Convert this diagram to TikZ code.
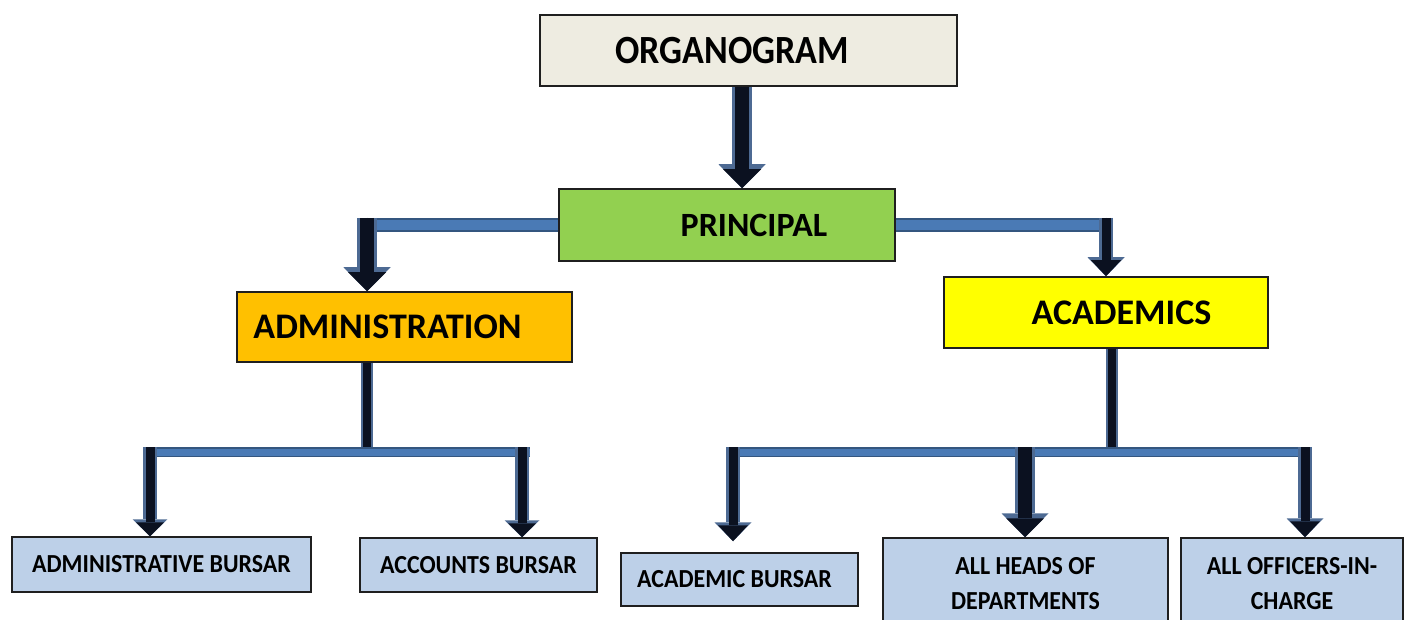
\documentclass[tikz,border=0pt]{standalone}
\usepackage{fontspec}
\setmainfont{Carlito}
\newfontfamily\lowfam{Carlito}[FakeStretch=0.92]
\usepackage{graphicx}
\usetikzlibrary{arrows.meta}
\definecolor{orgfill}{HTML}{EEECE1}
\definecolor{prifill}{HTML}{92D050}
\definecolor{admfill}{HTML}{FFC000}
\definecolor{acafill}{HTML}{FFFF00}
\definecolor{lowfill}{HTML}{BDD0E8}
\definecolor{boxline}{HTML}{1F1F1F}
\definecolor{barfill}{HTML}{4A7AB5}
\definecolor{baredge}{HTML}{34567F}
\definecolor{shaftc}{HTML}{0B1120}
\definecolor{shaftedge}{HTML}{4D6A93}
\tikzset{
  box/.style={draw=boxline, line width=1.5pt, inner sep=0pt},
  bigfont/.style={font=\fontsize{36}{42}\selectfont\bfseries},
  lowfont/.style={font=\lowfam\fontsize{26}{35}\selectfont\bfseries, align=center},
  lowbox/.style={box, fill=lowfill, lowfont},
  barthick/.style={line width=10pt, draw=barfill, preaction={draw=baredge, line width=14pt}},
  barthin/.style={line width=7pt, draw=barfill, preaction={draw=baredge, line width=10pt}},
  stem/.style={line width=8pt, draw=shaftc, preaction={draw=shaftedge, line width=12pt}},
  arrbig/.style={line width=14pt, draw=shaftc, fill=shaftc,
    -{Triangle[width=38pt,length=19pt,line width=0pt]},
    preaction={draw=shaftedge, fill=shaftedge, line width=20pt, -{Triangle[width=47pt,length=24pt,line width=0pt]}}},
  arrmid/.style={line width=9pt, draw=shaftc, fill=shaftc,
    -{Triangle[width=30pt,length=16pt,line width=0pt]},
    preaction={draw=shaftedge, fill=shaftedge, line width=14pt, -{Triangle[width=37pt,length=19pt,line width=0pt]}}},
  arrsmall/.style={line width=9pt, draw=shaftc, fill=shaftc,
    -{Triangle[width=28pt,length=14pt,line width=0pt]},
    preaction={draw=shaftedge, fill=shaftedge, line width=14pt, -{Triangle[width=35pt,length=17pt,line width=0pt]}}},
}
\begin{document}
\begin{tikzpicture}[x=1pt,y=-1pt]
\clip (0,0) rectangle (1408,620);
\fill[white] (0,0) rectangle (1408,620);

% main boxes
\node[box, fill=orgfill, minimum width=417pt, minimum height=71pt, font=\fontsize{40}{48}\selectfont\bfseries]
  (org) at (748.5,50.5) {\hspace*{-33pt}\scalebox{0.9}[1]{ORGANOGRAM}};
\node[box, fill=prifill, minimum width=336pt, minimum height=72pt, font=\fontsize{34}{40}\selectfont\bfseries]
  (pri) at (727,225) {\hspace*{54pt}PRINCIPAL};
\node[box, fill=admfill, minimum width=335pt, minimum height=70pt, bigfont]
  (adm) at (404.5,327) {\hspace*{-34pt}ADMINISTRATION};
\node[box, fill=acafill, minimum width=324pt, minimum height=71pt, bigfont]
  (aca) at (1106,312.5) {\hspace*{31pt}ACADEMICS};

% lower boxes
\node[lowbox, minimum width=299pt, minimum height=55pt] (ab) at (161.5,564.5) {ADMINISTRATIVE BURSAR};
\node[lowbox, minimum width=237pt, minimum height=54pt] (acb) at (478.5,565) {ACCOUNTS BURSAR};
\node[lowbox, minimum width=237pt, minimum height=53pt] (akb) at (739.5,579.5) {\hspace*{-10pt}ACADEMIC BURSAR};
\node[lowbox, minimum width=285pt, minimum height=92pt] (hd) at (1025.5,584) {ALL HEADS OF\\DEPARTMENTS};
\node[lowbox, minimum width=222pt, minimum height=92pt] (off) at (1292,584) {ALL OFFICERS-IN-\\CHARGE};

% junction coordinates
\coordinate (tlc) at (358,225);
\coordinate (tl) at (367,218);
\coordinate (trc) at (1113,225);
\coordinate (tr) at (1106,218);
\coordinate (lj) at (367,449);
\coordinate (rj) at (1112,449);
\coordinate (lb1) at (143,452);
\coordinate (lb2) at (530,452);
\coordinate (rb1) at (728,452);
\coordinate (rb2) at (1312,452);
\coordinate (la1) at (150,447);
\coordinate (la2) at (522,447);
\coordinate (ra1) at (733,447);
\coordinate (ra2) at (1025,447);
\coordinate (ra3) at (1305,447);

% bars
\draw[barthick] (pri.west) -- (tlc);
\draw[barthick] (pri.east) -- (trc);
\draw[stem] (adm.south -| lj) -- (lj);
\draw[stem] (aca.south -| rj) -- (rj);
\draw[barthin] (lb1) -- (lb2);
\draw[barthin] (rb1) -- (rb2);

% arrows
\draw[arrbig] ([xshift=-6.5pt]org.south) -- ([xshift=15pt]pri.north);
\draw[arrbig] (tl) -- (tl |- adm.north);
\draw[arrmid] (tr) -- (tr |- aca.north);
\draw[arrsmall] (la1) -- (la1 |- ab.north);
\draw[arrsmall] (la2) -- (la2 |- acb.north);
\draw[arrmid, shorten >=11pt] (ra1) -- (ra1 |- akb.north);
\draw[arrbig] (ra2) -- (ra2 |- hd.north);
\draw[arrmid] (ra3) -- (ra3 |- off.north);
\end{tikzpicture}
\end{document}
